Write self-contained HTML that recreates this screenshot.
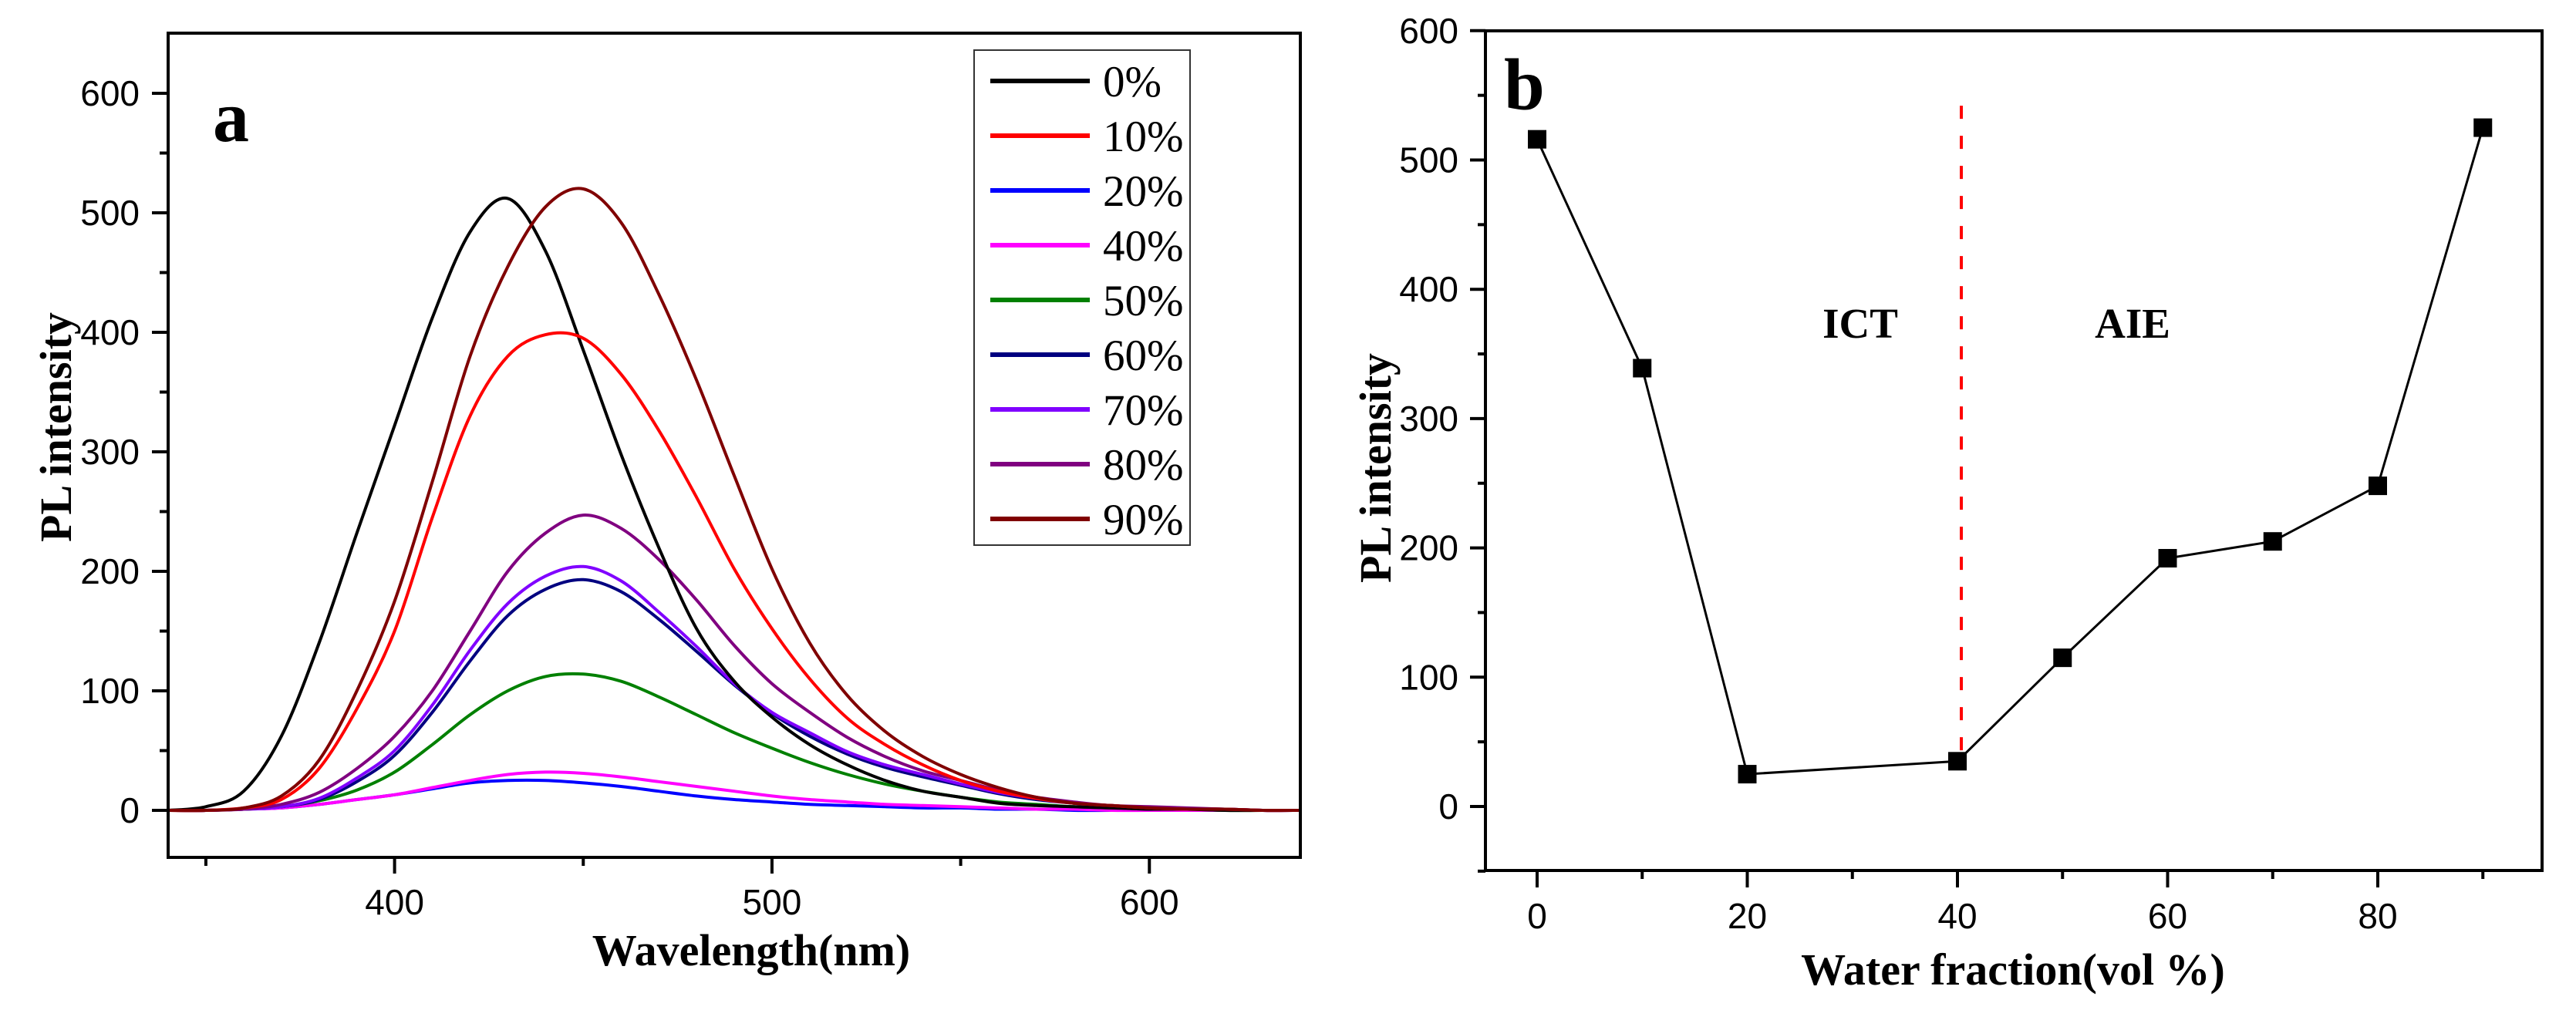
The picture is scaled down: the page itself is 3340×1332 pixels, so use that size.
<!DOCTYPE html>
<html><head><meta charset="utf-8">
<style>
html,body{margin:0;padding:0;background:#fff;}
svg{display:block;}
.tick{font-family:"Liberation Sans",Arial,sans-serif;font-size:46px;fill:#000;}
.title{font-family:"Liberation Serif","Times New Roman",serif;font-weight:bold;font-size:58px;fill:#000;}
.leg{font-family:"Liberation Serif","Times New Roman",serif;font-size:57px;fill:#000;}
</style></head>
<body>
<svg id="chart" width="3340" height="1332" viewBox="0 0 3340 1332" xmlns="http://www.w3.org/2000/svg">
<g id="pa"></g>
<g id="pb"></g>
</svg>
<script>
// ---------- Panel a data ----------
const wavelengths = [340,350,360,370,380,390,400,410,420,430,440,450,460,470,480,490,500,510,520,530,540,550,560,570,580,590,600,610,620,630,640];
const s0  = [0,3,16,62,140,232,322,412,484,512,468,385,298,220,152,108,78,55,38,25,16,11,6,4,3,2,1,1,0,0,0];
const s10 = [0,0,2,9,35,85,150,245,330,380,398,395,365,318,262,202,152,110,77,55,38,25,16,10,6,4,2,1,1,0,0];
const s20 = [0,0,1,2,5,9,13,18,23,25,25,23,20,16,12,9,7,5,4,3,2,2,1,1,0,0,0,0,0,0,0];
const s40 = [0,0,1,2,5,9,13,19,25,30,32,31,28,24,20,16,12,9,7,5,4,3,2,1,1,0,0,0,0,0,0];
const s50 = [0,0,1,3,8,17,32,55,80,100,112,114,108,95,80,65,52,40,30,22,16,11,7,5,3,2,1,1,0,0,0];
const s60 = [0,0,1,3,9,24,46,82,125,163,185,193,183,160,133,105,81,62,47,36,28,21,14,9,6,3,2,1,1,0,0];
const s70 = [0,0,1,3,10,27,50,88,134,173,196,204,192,166,137,106,82,65,49,38,30,22,15,10,6,4,2,1,1,0,0];
const s80 = [0,0,1,5,15,35,62,100,150,200,232,247,236,210,176,138,106,82,61,45,33,25,17,11,7,4,3,2,1,0,0];
const s90 = [0,0,2,12,42,100,175,275,380,455,505,520,492,432,360,280,202,140,96,66,45,30,19,11,6,4,2,1,1,0,0];
const seriesLabels = ["0%","10%","20%","40%","50%","60%","70%","80%","90%"];
const xTicksA = [400,500,600];
const xMinorA = [350,450,550];
const yTicksA = [0,100,200,300,400,500,600];
const yMinorA = [50,150,250,350,450,550];
// ---------- Panel b data ----------
const waterFractions = [0,10,20,40,50,60,70,80,90];
const plIntensity = [516,339,25,35,115,192,205,248,525];
const xTicksB = [0,20,40,60,80];
const xMinorB = [10,30,50,70,90];
const yTicksB = [0,100,200,300,400,500,600];
const yMinorB = [-50,50,150,250,350,450,550];
const dividerX = 40;
const dividerTop = 542;
const dividerBottom = 41;

const NS="http://www.w3.org/2000/svg";
function mk(parent,tag,attrs,text){const e=document.createElementNS(NS,tag);for(const k in attrs)e.setAttribute(k,attrs[k]);if(text!==undefined)e.textContent=text;parent.appendChild(e);return e;}

// ===== Panel A =====
const pa=document.getElementById('pa');
const A={l:218,r:1686,t:43,b:1112,x0:340,x1:640,y0:-40,y1:650};
const ax=v=>A.l+(v-A.x0)/(A.x1-A.x0)*(A.r-A.l);
const ay=v=>1051-v*1.55;
function smoothPath(xs,ys,fx,fy){
  const p=xs.map((x,i)=>[fx(x),fy(ys[i])]);
  let d="M"+p[0][0].toFixed(1)+","+p[0][1].toFixed(1);
  for(let i=0;i<p.length-1;i++){
    const p0=p[Math.max(i-1,0)],p1=p[i],p2=p[i+1],p3=p[Math.min(i+2,p.length-1)];
    const c1x=p1[0]+(p2[0]-p0[0])/6,c1y=p1[1]+(p2[1]-p0[1])/6;
    const c2x=p2[0]-(p3[0]-p1[0])/6,c2y=p2[1]-(p3[1]-p1[1])/6;
    d+=" C"+c1x.toFixed(1)+","+c1y.toFixed(1)+" "+c2x.toFixed(1)+","+c2y.toFixed(1)+" "+p2[0].toFixed(1)+","+p2[1].toFixed(1);
  }
  return d;
}
const allSeries=[s0,s10,s20,s40,s50,s60,s70,s80,s90];
const colors=["#000000","#ff0000","#0000ff","#ff00ff","#008000","#000080","#8000ff","#800080","#800000"];
const curvesG=mk(pa,'g',{});


const drawOrder=[2,3,4,5,6,7,0,1,8];
drawOrder.forEach(i=>{
  const el=mk(curvesG,'path',{d:smoothPath(wavelengths,allSeries[i],ax,ay),fill:'none',stroke:colors[i],'stroke-width':4,'stroke-linejoin':'round'});
  
  
});
const fa=mk(pa,'rect',{x:A.l,y:A.t,width:A.r-A.l,height:A.b-A.t,fill:'none',stroke:'#000','stroke-width':4});


yTicksA.forEach(v=>{
  const t=mk(pa,'line',{x1:A.l-21,x2:A.l,y1:ay(v),y2:ay(v),stroke:'#000','stroke-width':4});
  
  
  const l=mk(pa,'text',{x:181,y:ay(v)+16,'text-anchor':'end',class:'tick'},String(v));
  
  
});
yMinorA.forEach(v=>{
  const t=mk(pa,'line',{x1:A.l-11,x2:A.l,y1:ay(v),y2:ay(v),stroke:'#000','stroke-width':4});
  
  
});
xTicksA.forEach(v=>{
  const t=mk(pa,'line',{x1:ax(v),x2:ax(v),y1:A.b,y2:A.b+21,stroke:'#000','stroke-width':4});
  
  
  const l=mk(pa,'text',{x:ax(v),y:1186,'text-anchor':'middle',class:'tick'},String(v));
  
  
});
xMinorA.forEach(v=>{
  const t=mk(pa,'line',{x1:ax(v),x2:ax(v),y1:A.b,y2:A.b+11,stroke:'#000','stroke-width':4});
  
  
});
const xta=mk(pa,'text',{x:974,y:1252,'text-anchor':'middle',class:'title'},'Wavelength(nm)');


const yta=mk(pa,'text',{x:0,y:0,'text-anchor':'middle',class:'title',transform:'translate(92,554) rotate(-90)'},'PL intensity');


const la=mk(pa,'text',{x:276,y:183,style:'font-family:"Liberation Serif",serif;font-weight:bold;font-size:94px'},'a');


const lg=mk(pa,'g',{});


mk(lg,'rect',{x:1263,y:65,width:280,height:642,fill:'#fff',stroke:'#333','stroke-width':2});
seriesLabels.forEach((s,i)=>{
  const y=105+i*71;
  const en=mk(lg,'g',{});
  
  
  mk(en,'line',{x1:1284,x2:1413,y1:y,y2:y,stroke:colors[i],'stroke-width':6});
  mk(en,'text',{x:1430,y:y+20,class:'leg'},s);
});

// ===== Panel B =====
const pb=document.getElementById('pb');
const B={l:1926,r:3296,t:40,b:1129};
const bx=v=>1993+v*13.625;
const by=v=>1046-v*1.677;
const fb=mk(pb,'rect',{x:B.l,y:B.t,width:B.r-B.l,height:B.b-B.t,fill:'none',stroke:'#000','stroke-width':4});


yTicksB.forEach(v=>{
  const t=mk(pb,'line',{x1:B.l-20,x2:B.l,y1:by(v),y2:by(v),stroke:'#000','stroke-width':4});
  
  
  const l=mk(pb,'text',{x:1891,y:by(v)+16,'text-anchor':'end',class:'tick'},String(v));
  
  
});
yMinorB.forEach(v=>{
  const t=mk(pb,'line',{x1:B.l-10,x2:B.l,y1:by(v),y2:by(v),stroke:'#000','stroke-width':4});
  
  
});
xTicksB.forEach(v=>{
  const t=mk(pb,'line',{x1:bx(v),x2:bx(v),y1:B.b,y2:B.b+22,stroke:'#000','stroke-width':4});
  
  
  const l=mk(pb,'text',{x:bx(v),y:1204,'text-anchor':'middle',class:'tick'},String(v));
  
  
});
xMinorB.forEach(v=>{
  const t=mk(pb,'line',{x1:bx(v),x2:bx(v),y1:B.b,y2:B.b+11,stroke:'#000','stroke-width':4});
  
  
});
const dv=mk(pb,'line',{x1:bx(dividerX)+5,x2:bx(dividerX)+5,y1:by(dividerTop),y2:by(dividerBottom),stroke:'#ff0000','stroke-width':4,'stroke-dasharray':'17 22'});


const ln=mk(pb,'polyline',{points:waterFractions.map((x,i)=>bx(x)+','+by(plIntensity[i])).join(' '),fill:'none',stroke:'#000','stroke-width':3});


waterFractions.forEach((x,i)=>{
  const m=mk(pb,'rect',{x:bx(x)-12,y:by(plIntensity[i])-12,width:24,height:24,fill:'#000'});
  
  
});
const ict=mk(pb,'text',{x:2412,y:438,'text-anchor':'middle',class:'title',style:'font-size:55px'},'ICT');


const aie=mk(pb,'text',{x:2765,y:438,'text-anchor':'middle',class:'title',style:'font-size:55px'},'AIE');


const xtb=mk(pb,'text',{x:2610,y:1277,'text-anchor':'middle',class:'title'},'Water fraction(vol %)');


const ytb=mk(pb,'text',{x:0,y:0,'text-anchor':'middle',class:'title',transform:'translate(1803,607) rotate(-90)'},'PL intensity');


const lb=mk(pb,'text',{x:1950,y:142,style:'font-family:"Liberation Serif",serif;font-weight:bold;font-size:95px'},'b');


</script>
</body></html>
